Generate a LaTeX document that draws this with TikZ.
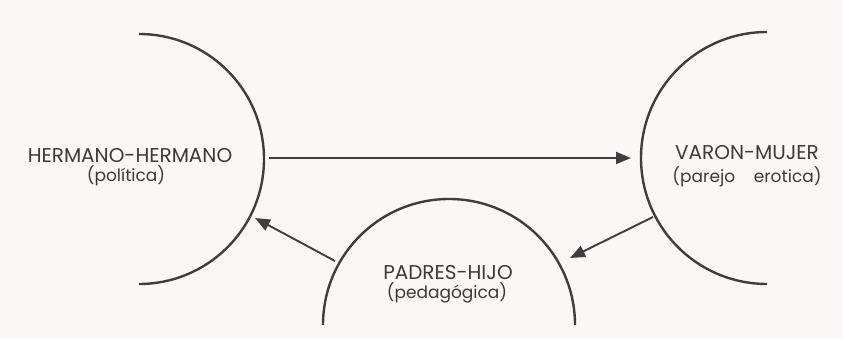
\documentclass[tikz,border=0pt]{standalone}
\usepackage{fontspec}
\setmainfont{Poppins}
\usetikzlibrary{arrows.meta}
\definecolor{bg}{HTML}{F9F8F5}
\definecolor{ink}{HTML}{3E3E3E}
\definecolor{txt}{HTML}{3A3A3A}
\begin{document}
\begin{tikzpicture}[x=1pt,y=1pt,
  arcline/.style={draw=ink, line width=2.4pt},
  conn/.style={draw=ink, line width=1.9pt, -{Triangle[length=15pt,width=12pt]}},
  capslbl/.style={text=txt, anchor=base, inner sep=0pt, font=\fontsize{20}{24}\selectfont},
  sublbl/.style={text=txt, anchor=base, inner sep=0pt, font=\fontsize{17}{20}\selectfont}]
\fill[bg] (0,0) rectangle (843,339);
\useasboundingbox (0,0) rectangle (843,339);
% arcs
\draw[arcline] (139,305) arc[start angle=90, end angle=-90, radius=125];
\draw[arcline] (767,307) arc[start angle=90, end angle=270, radius=126];
\draw[arcline] (575,14) arc[start angle=0, end angle=180, radius=126];
% labels
\node[capslbl] (hh) at (130,176) {HERMANO-HERMANO};
\node[sublbl] (hhs) at (126,157) {(política)};
\node[capslbl] (vm) at (747,179) {VARON-MUJER};
\node[sublbl] (vms) at (747,156) {(parejo\hspace{1.1em}erotica)};
\node[capslbl] (ph) at (448,59) {PADRES-HIJO};
\node[sublbl] (phs) at (447,40) {(pedagógica)};
% connector ends
\coordinate (a1) at (269,181);
\coordinate (b1) at (631,181);
\coordinate (a2) at (335,78);
\coordinate (b2) at (255,121);
\coordinate (a3) at (653,122);
\coordinate (b3) at (570,81);
\draw[conn] (a1) -- (b1);
\draw[conn] (a2) -- (b2);
\draw[conn] (a3) -- (b3);
\end{tikzpicture}
\end{document}
